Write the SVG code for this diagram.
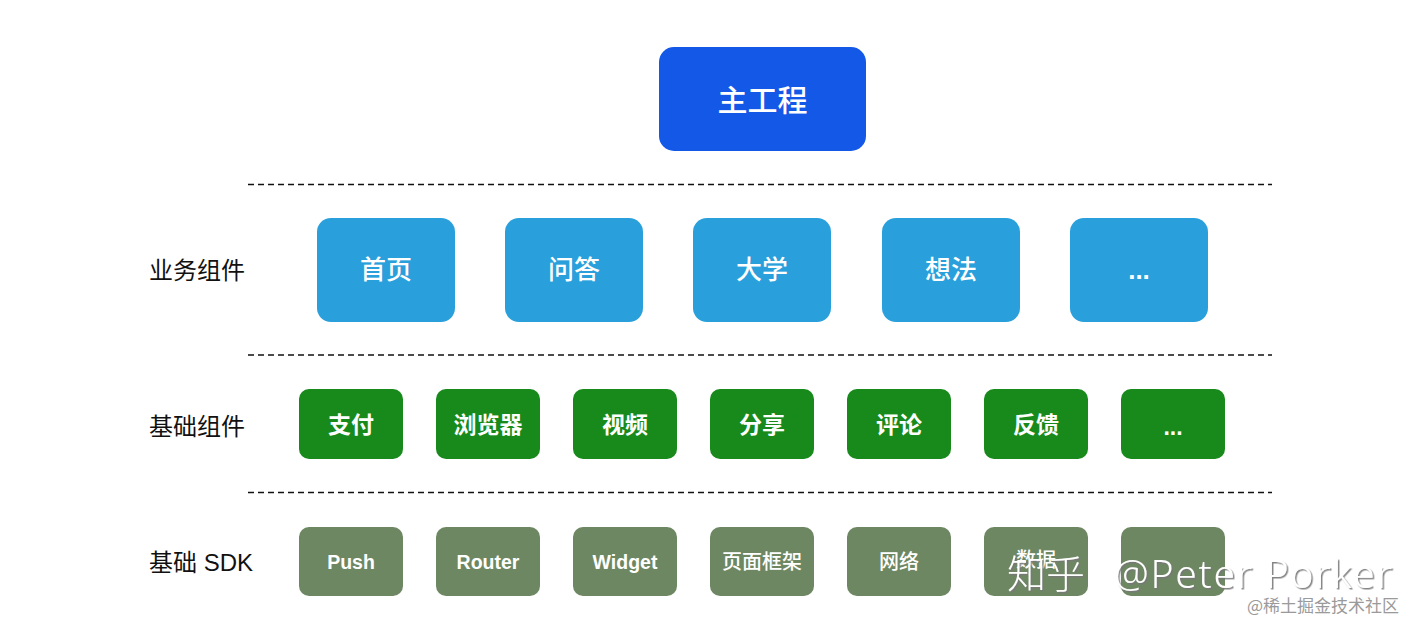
<svg xmlns="http://www.w3.org/2000/svg" width="1428" height="633" viewBox="0 0 1428 633">
<style>
text{font-family:"Liberation Sans","Noto Sans CJK SC",sans-serif;text-anchor:middle;dominant-baseline:central;fill:#fff}
.lbl{fill:#111;text-anchor:start;font-size:24px}
.main{fill:#1458E8}
.biz{fill:#29A0DC}
.base{fill:#178A1B}
.sdk{fill:#6E8763}
.t1{font-size:26px;font-weight:500}
.t2{font-size:23px;font-weight:700}
.t3{font-size:19.5px;font-weight:700}
.t3c{font-size:20px;font-weight:500}
.sep{stroke:#111;stroke-width:1.6;stroke-dasharray:6 4;fill:none}
.wm{font-family:"Noto Sans","Noto Sans CJK SC",sans-serif;font-weight:300;font-size:39px;text-anchor:start;dominant-baseline:alphabetic;fill:#fff;filter:url(#sh)}
.wm2{font-family:"Noto Sans CJK SC",sans-serif;font-size:17px;text-anchor:start;dominant-baseline:alphabetic;fill:#9a9a9a}
</style>
<defs>
<filter id="sh" x="-10%" y="-30%" width="120%" height="160%">
<feDropShadow dx="1.5" dy="1.5" stdDeviation="0.6" flood-color="#777" flood-opacity="0.9"/>
</filter>
</defs>
<rect width="1428" height="633" fill="#fff"/>
<g id="connectors">
<line class="sep" x1="248" y1="184.5" x2="1272" y2="184.5"/>
<line class="sep" x1="248" y1="355" x2="1272" y2="355"/>
<line class="sep" x1="248" y1="492.5" x2="1272" y2="492.5"/>
</g>
<g id="labels">
<text class="lbl" x="149" y="270">业务组件</text>
<text class="lbl" x="149" y="426">基础组件</text>
<text class="lbl" x="149" y="562">基础 SDK</text>
</g>
<g id="main"><rect class="main" x="659" y="47" width="207" height="104" rx="15"/><text x="762.5" y="100" style="font-size:30px;font-weight:500">主工程</text></g>
<g id="biz1"><rect class="biz" x="317" y="218" width="138" height="104" rx="14"/><text class="t1" x="386" y="270">首页</text></g>
<g id="biz2"><rect class="biz" x="505" y="218" width="138" height="104" rx="14"/><text class="t1" x="574" y="270">问答</text></g>
<g id="biz3"><rect class="biz" x="693" y="218" width="138" height="104" rx="14"/><text class="t1" x="762" y="270">大学</text></g>
<g id="biz4"><rect class="biz" x="882" y="218" width="138" height="104" rx="14"/><text class="t1" x="951" y="270">想法</text></g>
<g id="biz5"><rect class="biz" x="1070" y="218" width="138" height="104" rx="14"/><text x="1139" y="270" style="font-size:26px;font-weight:700">...</text></g>
<g id="base1"><rect class="base" x="299" y="389" width="104" height="70" rx="10"/><text class="t2" x="351" y="425">支付</text></g>
<g id="base2"><rect class="base" x="436" y="389" width="104" height="70" rx="10"/><text class="t2" x="488" y="425">浏览器</text></g>
<g id="base3"><rect class="base" x="573" y="389" width="104" height="70" rx="10"/><text class="t2" x="625" y="425">视频</text></g>
<g id="base4"><rect class="base" x="710" y="389" width="104" height="70" rx="10"/><text class="t2" x="762" y="425">分享</text></g>
<g id="base5"><rect class="base" x="847" y="389" width="104" height="70" rx="10"/><text class="t2" x="899" y="425">评论</text></g>
<g id="base6"><rect class="base" x="984" y="389" width="104" height="70" rx="10"/><text class="t2" x="1036" y="425">反馈</text></g>
<g id="base7"><rect class="base" x="1121" y="389" width="104" height="70" rx="10"/><text class="t2" x="1173" y="427">...</text></g>
<g id="sdk1"><rect class="sdk" x="299" y="527" width="104" height="69" rx="10"/><text class="t3" x="351" y="562">Push</text></g>
<g id="sdk2"><rect class="sdk" x="436" y="527" width="104" height="69" rx="10"/><text class="t3" x="488" y="562">Router</text></g>
<g id="sdk3"><rect class="sdk" x="573" y="527" width="104" height="69" rx="10"/><text class="t3" x="625" y="562">Widget</text></g>
<g id="sdk4"><rect class="sdk" x="710" y="527" width="104" height="69" rx="10"/><text class="t3c" x="762" y="562">页面框架</text></g>
<g id="sdk5"><rect class="sdk" x="847" y="527" width="104" height="69" rx="10"/><text class="t3c" x="899" y="562">网络</text></g>
<g id="sdk6"><rect class="sdk" x="984" y="527" width="104" height="69" rx="10"/><text class="t3c" x="1036" y="560">数据</text></g>
<g id="sdk7"><rect class="sdk" x="1121" y="527" width="104" height="69" rx="10"/></g>
<g id="watermark">
<text class="wm" x="1007" y="588">知乎</text>
<text class="wm" x="1114" y="588" textLength="278">@Peter Porker</text>
<text class="wm2" x="1247" y="612">@稀土掘金技术社区</text>
</g>
</svg>
